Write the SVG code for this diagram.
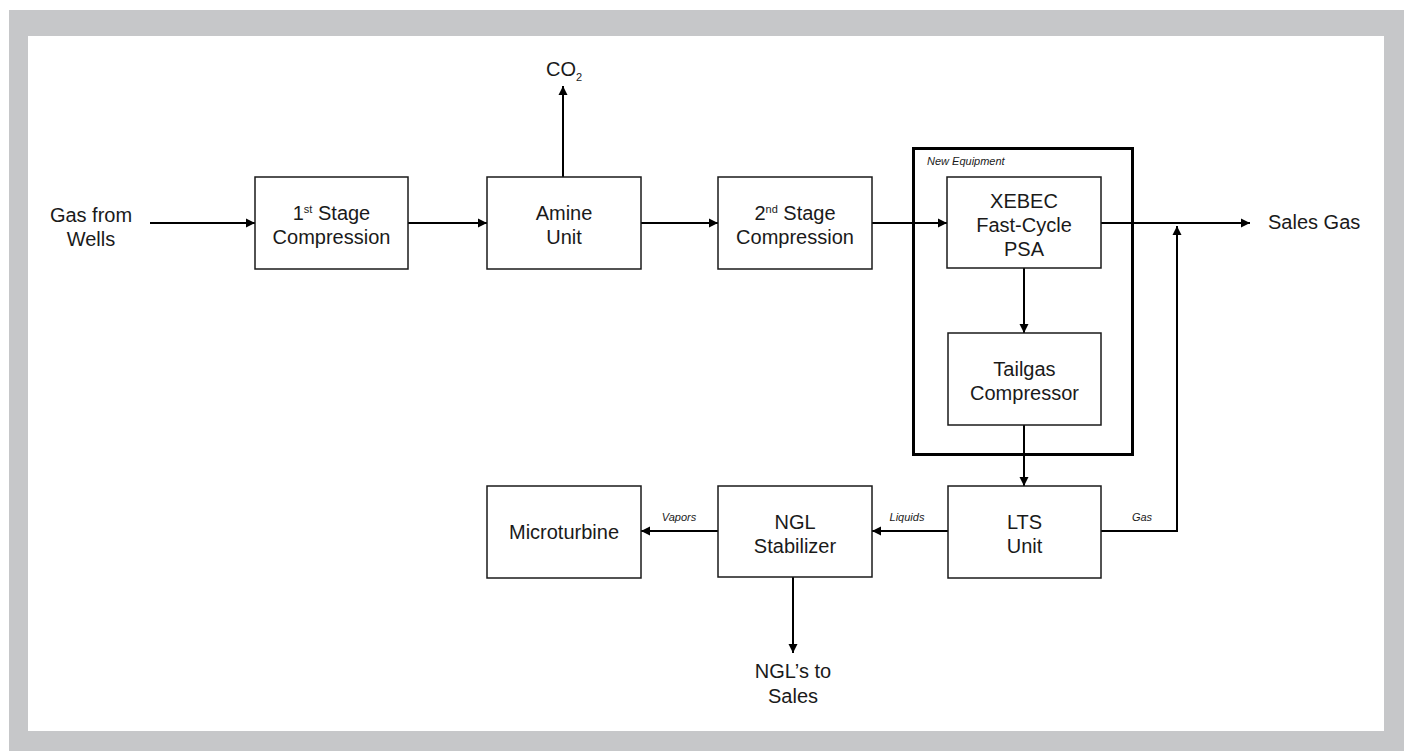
<svg xmlns="http://www.w3.org/2000/svg" width="1406" height="751" viewBox="0 0 1406 751">
<style>
.box{fill:#fff;stroke:#1a1a1a;stroke-width:1.5}
.t{font-family:"Liberation Sans",Arial,sans-serif;font-size:20px;fill:#1a1a1a;text-anchor:middle}
.lbl{font-family:"Liberation Sans",Arial,sans-serif;font-size:11px;font-style:italic;fill:#1a1a1a;text-anchor:middle}
.sup{font-size:11px}
.c{fill:none;stroke:#000;stroke-width:2}
</style>
<defs>
<marker id="ah" markerUnits="userSpaceOnUse" markerWidth="10" markerHeight="10" viewBox="0 0 10 10" refX="9" refY="5" orient="auto">
<path d="M0,0.5 L9,5 L0,9.5 Z" fill="#000"/>
</marker>
</defs>
<rect x="9" y="10" width="1395" height="741" fill="#c6c7c9"/>
<rect x="28" y="36" width="1356" height="695" fill="#fff"/>

<g id="new-equipment">
<rect x="913.5" y="148.5" width="219" height="306" fill="none" stroke="#000" stroke-width="3"/>
<text x="927" y="165" class="lbl" style="text-anchor:start">New Equipment</text>
</g>

<g id="connectors">
<line class="c" x1="150" y1="223" x2="255" y2="223" marker-end="url(#ah)"/>
<line class="c" x1="408" y1="223" x2="487" y2="223" marker-end="url(#ah)"/>
<line class="c" x1="563" y1="177" x2="563" y2="86" marker-end="url(#ah)"/>
<line class="c" x1="641" y1="223" x2="718" y2="223" marker-end="url(#ah)"/>
<line class="c" x1="872" y1="223" x2="947" y2="223" marker-end="url(#ah)"/>
<line class="c" x1="1101" y1="223" x2="1250" y2="223" marker-end="url(#ah)"/>
<line class="c" x1="1024" y1="268" x2="1024" y2="333" marker-end="url(#ah)"/>
<line class="c" x1="1024" y1="425" x2="1024" y2="486" marker-end="url(#ah)"/>
<polyline class="c" points="1101,531 1177,531 1177,226" marker-end="url(#ah)"/>
<line class="c" x1="948" y1="531" x2="872" y2="531" marker-end="url(#ah)"/>
<line class="c" x1="718" y1="531" x2="641" y2="531" marker-end="url(#ah)"/>
<line class="c" x1="793" y1="577" x2="793" y2="653" marker-end="url(#ah)"/>
<text x="679" y="521" class="lbl">Vapors</text>
<text x="907" y="521" class="lbl">Liquids</text>
<text x="1142" y="521" class="lbl">Gas</text>
</g>

<g id="gas-from-wells">
<text x="91" y="222" class="t">Gas from</text>
<text x="91" y="246" class="t">Wells</text>
</g>

<g id="stage1">
<rect class="box" x="255" y="177" width="153" height="92"/>
<text x="331.5" y="220" class="t">1<tspan class="sup" dy="-7">st</tspan><tspan dy="7"> Stage</tspan></text>
<text x="331.5" y="244" class="t">Compression</text>
</g>

<g id="amine">
<rect class="box" x="487" y="177" width="154" height="92"/>
<text x="564" y="220" class="t">Amine</text>
<text x="564" y="244" class="t">Unit</text>
</g>

<g id="co2">
<text x="546" y="76" class="t" style="text-anchor:start">CO<tspan class="sup" dy="5">2</tspan></text>
</g>

<g id="stage2">
<rect class="box" x="718" y="177" width="154" height="92"/>
<text x="795" y="220" class="t">2<tspan class="sup" dy="-7">nd</tspan><tspan dy="7"> Stage</tspan></text>
<text x="795" y="244" class="t">Compression</text>
</g>

<g id="xebec">
<rect class="box" x="947" y="177" width="154" height="91"/>
<text x="1024" y="208" class="t">XEBEC</text>
<text x="1024" y="232" class="t">Fast-Cycle</text>
<text x="1024" y="256" class="t">PSA</text>
</g>

<g id="sales-gas">
<text x="1268" y="229" class="t" style="text-anchor:start">Sales Gas</text>
</g>

<g id="tailgas">
<rect class="box" x="948" y="333" width="153" height="92"/>
<text x="1024.5" y="376" class="t">Tailgas</text>
<text x="1024.5" y="400" class="t">Compressor</text>
</g>

<g id="lts">
<rect class="box" x="948" y="486" width="153" height="92"/>
<text x="1024.5" y="529" class="t">LTS</text>
<text x="1024.5" y="553" class="t">Unit</text>
</g>

<g id="ngl-stabilizer">
<rect class="box" x="718" y="486" width="154" height="91"/>
<text x="795" y="529" class="t">NGL</text>
<text x="795" y="553" class="t">Stabilizer</text>
</g>

<g id="microturbine">
<rect class="box" x="487" y="486" width="154" height="92"/>
<text x="564" y="539" class="t">Microturbine</text>
</g>

<g id="ngls-to-sales">
<text x="793" y="678" class="t">NGL’s to</text>
<text x="793" y="703" class="t">Sales</text>
</g>
</svg>
